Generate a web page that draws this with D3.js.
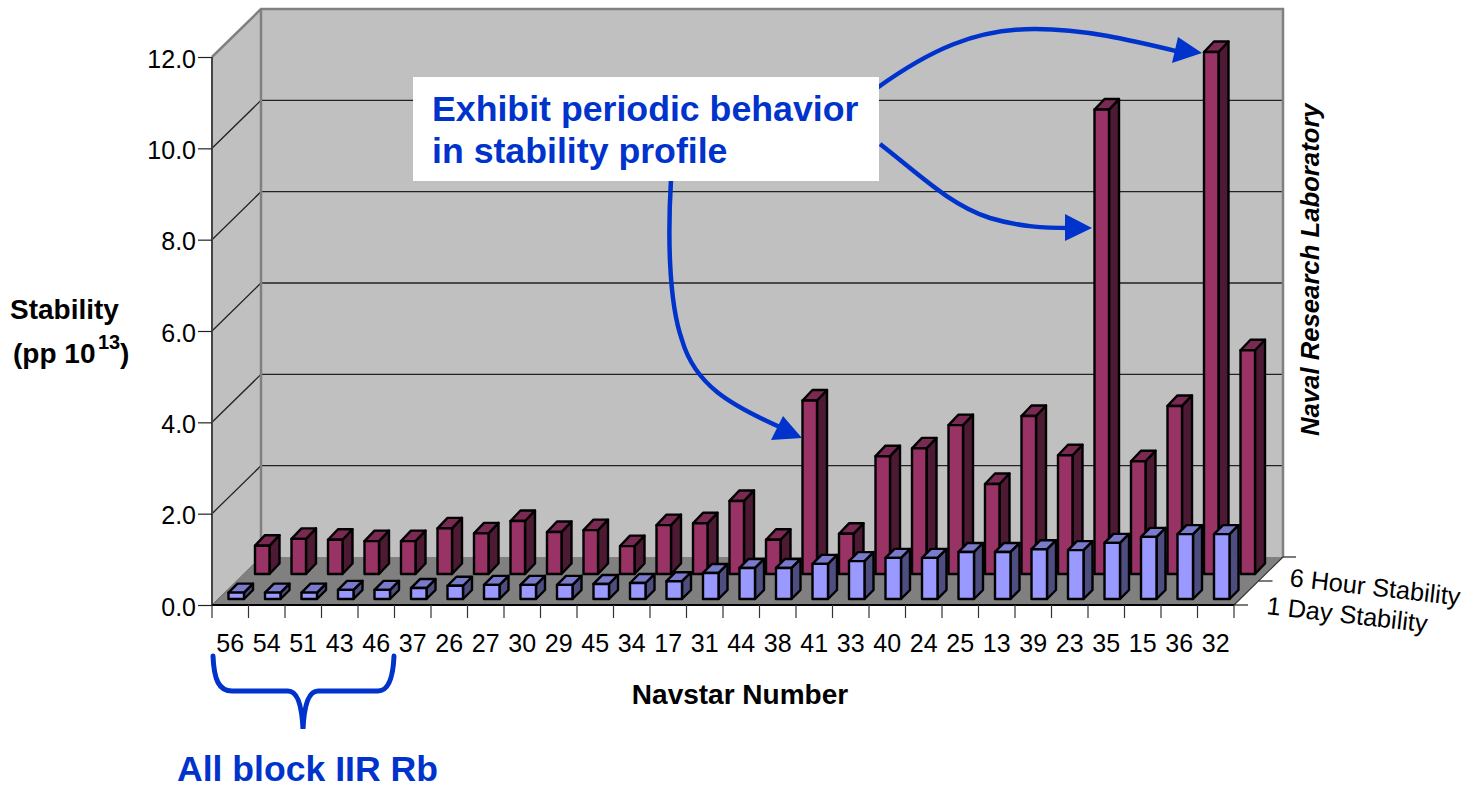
<!DOCTYPE html>
<html><head><meta charset="utf-8">
<script src="https://cdn.jsdelivr.net/npm/d3@7/dist/d3.min.js"></script>
<style>html,body{margin:0;background:#fff}svg{display:block}text{font-family:"Liberation Sans",Arial,sans-serif}</style>
</head><body><svg id="c" width="1479" height="786"></svg>
<script>
const categories=["56","54","51","43","46","37","26","27","30","29","45","34","17","31","44","38","41","33","40","24","25","13","39","23","35","15","36","32"];
const oneDay=[0.14,0.14,0.14,0.2,0.2,0.24,0.29,0.31,0.31,0.31,0.33,0.35,0.39,0.57,0.68,0.68,0.77,0.83,0.9,0.9,1.03,1.03,1.09,1.07,1.23,1.36,1.42,1.42];
const sixHour=[0.62,0.77,0.75,0.72,0.72,1.0,0.89,1.16,0.92,0.96,0.61,1.07,1.11,1.6,0.75,3.8,0.88,2.58,2.75,3.26,1.97,3.46,2.6,10.17,2.47,3.68,11.43,4.9];
const yTicks=[0,2,4,6,8,10,12];
const seriesNames=["1 Day Stability","6 Hour Stability"];

const svg=d3.select("#c");
const L=212,R=1234,B=605,T=57,DX=49,DY=48;
const x=d3.scaleBand().domain(categories).range([L,R]);
const y=d3.scaleLinear().domain([0,12]).range([B,T]);
const wallC="#c0c0c0",floorC="#808080",edge="#808080";

// walls
svg.append("polygon").attr("points",`${L+DX},${T-DY} ${R+DX},${T-DY} ${R+DX},${B-DY} ${L+DX},${B-DY}`).attr("fill",wallC);
svg.append("polygon").attr("points",`${L},${T} ${L+DX},${T-DY} ${L+DX},${B-DY} ${L},${B}`).attr("fill",wallC);
svg.append("polygon").attr("points",`${L},${B} ${L+DX},${B-DY} ${R+DX},${B-DY} ${R},${B}`).attr("fill",floorC);
// gridlines
yTicks.slice(1,6).forEach(v=>{
  svg.append("path").attr("d",`M${L},${y(v)}L${L+DX},${y(v)-DY}L${R+DX},${y(v)-DY}`).attr("fill","none").attr("stroke","#222").attr("stroke-width",1.3);
});
// wall borders
svg.append("path").attr("d",`M${L},${T}L${L+DX},${T-DY}L${R+DX},${T-DY}L${R+DX},${B-DY}`).attr("fill","none").attr("stroke",edge).attr("stroke-width",2.5);
svg.append("path").attr("d",`M${L+DX},${T-DY}L${L+DX},${B-DY}`).attr("stroke",edge).attr("stroke-width",2.5);
svg.append("path").attr("d",`M${L},${B}L${L+DX},${B-DY}`).attr("stroke","#666").attr("stroke-width",1);
svg.append("path").attr("d",`M${R},${B}L${R+DX},${B-DY}`).attr("stroke","#333").attr("stroke-width",1.2);
// depth ticks right
[[R,B,14],[R+DX/2,B-DY/2,14],[R+DX,B-DY,13]].forEach(d=>{
  svg.append("line").attr("x1",d[0]).attr("y1",d[1]).attr("x2",d[0]+d[2]).attr("y2",d[1]).attr("stroke","#222").attr("stroke-width",1.2);
});

// bars
function bars(values,offX,baseUp,w,dx,dy,front,top,side){
  const xb=d3.scaleBand().domain(d3.range(values.length)).range([L,R]);
  const g=svg.append("g").attr("stroke","#000").attr("stroke-width",2.4).attr("stroke-linejoin","round");
  const h=v=>B-y(v);
  const s=g.selectAll("g").data(values).join("g");
  const X=(d,i)=>xb(i)+offX, Yb=B-baseUp, Yt=d=>Yb-h(d);
  s.append("polygon").attr("fill",side).attr("points",(d,i)=>{const a=X(d,i)+w;return `${a},${Yt(d)} ${a+dx},${Yt(d)-dy} ${a+dx},${Yb-dy} ${a},${Yb}`});
  s.append("polygon").attr("fill",top).attr("points",(d,i)=>{const a=X(d,i);return `${a},${Yt(d)} ${a+dx},${Yt(d)-dy} ${a+w+dx},${Yt(d)-dy} ${a+w},${Yt(d)}`});
  s.append("rect").attr("fill",front).attr("x",X).attr("y",Yt).attr("width",w).attr("height",h);
}
bars(sixHour,43,31,14.5,10,10.5,"#993366","#7a2952","#4d1a33");
bars(oneDay,16.5,6,15.5,9,9,"#9999ff","#7a7acc","#4d4d80");

// axes
const ax=svg.append("g").attr("transform",`translate(${L},0)`).call(d3.axisLeft(y).tickValues(yTicks).tickFormat(d3.format(".1f")).tickSize(14).tickPadding(2));
ax.select(".domain").attr("stroke","#444").attr("stroke-width",2).attr("d",`M0,${B}V${T}`);
ax.selectAll("line").attr("stroke","#222").attr("stroke-width",1.2);
ax.selectAll("text").attr("font-size",25).attr("fill","#000").attr("dy",10).style("font-family",'"Liberation Sans"');
const bx=svg.append("g").attr("transform",`translate(0,${B})`).call(d3.axisBottom(x).tickSize(0).tickPadding(29));
bx.select(".domain").attr("stroke","#000").attr("stroke-width",2).attr("d",`M${L},0H${R}`);
bx.selectAll("text").attr("font-size",25).attr("fill","#000").style("font-family",'"Liberation Sans"');
bx.selectAll("line").remove();
svg.append("g").selectAll("line").data(categories.map(c=>x(c)).concat([R])).join("line")
  .attr("x1",d=>d).attr("x2",d=>d).attr("y1",B).attr("y2",B+13).attr("stroke","#333").attr("stroke-width",1.2);

// text
const t=(s,a,b,size,o={})=>svg.append("text").attr("x",a).attr("y",b).attr("font-size",size).attr("font-weight",o.w||"normal").attr("font-style",o.i||"normal").attr("fill",o.c||"#000").attr("text-anchor",o.a||"start").attr("transform",o.r?`rotate(${o.r} ${a} ${b})`:null).text(s);
t("Stability",10,319,28,{w:"bold"});
t("(pp 10",13,363,28,{w:"bold"});
t("13",98,349,20,{w:"bold"});
t(")",120,363,28,{w:"bold"});
t("Navstar Number",740,704,28,{w:"bold",a:"middle"});
t("Naval Research Laboratory",1319,436,25.7,{w:"bold",i:"italic",r:-90});
t(seriesNames[1],1289,586,25.3,{r:6.5});
t(seriesNames[0],1266,614,25.3,{r:6.5});

// annotations
const blue="#0033cc";
const arrow=(d,tip,b1,b2)=>{
  svg.append("path").attr("d",d).attr("fill","none").attr("stroke",blue).attr("stroke-width",4.5);
  svg.append("polygon").attr("points",`${tip} ${b1} ${b2}`).attr("fill",blue);
};
arrow("M877,88C930,50 975,29 1035,29C1085,29 1130,40 1180,52",[1202,53],[1178,37],[1172,63]);
arrow("M880,144C920,175 950,205 990,218C1020,227 1045,228 1070,228",[1092,228],[1065,214],[1065,241]);
arrow("M671,180C668,230 668,300 682,340C695,385 730,405 782,428",[802,438],[783,416],[771,440]);
svg.append("rect").attr("x",413).attr("y",77).attr("width",466).attr("height",104).attr("fill","#fff");
t("Exhibit periodic behavior",432,121,35.7,{w:"bold",c:blue});
t("in stability profile",432,163,35.7,{w:"bold",c:blue});
svg.append("path").attr("d","M213,656C214,680 219,691 232,691H288C298,691 302,708 303,729C304,708 308,691 318,691H378C388,691 393,680 394,656").attr("fill","none").attr("stroke",blue).attr("stroke-width",5).attr("stroke-linecap","round");
t("All block IIR Rb",177,781,35.6,{w:"bold",c:blue});
</script></body></html>
